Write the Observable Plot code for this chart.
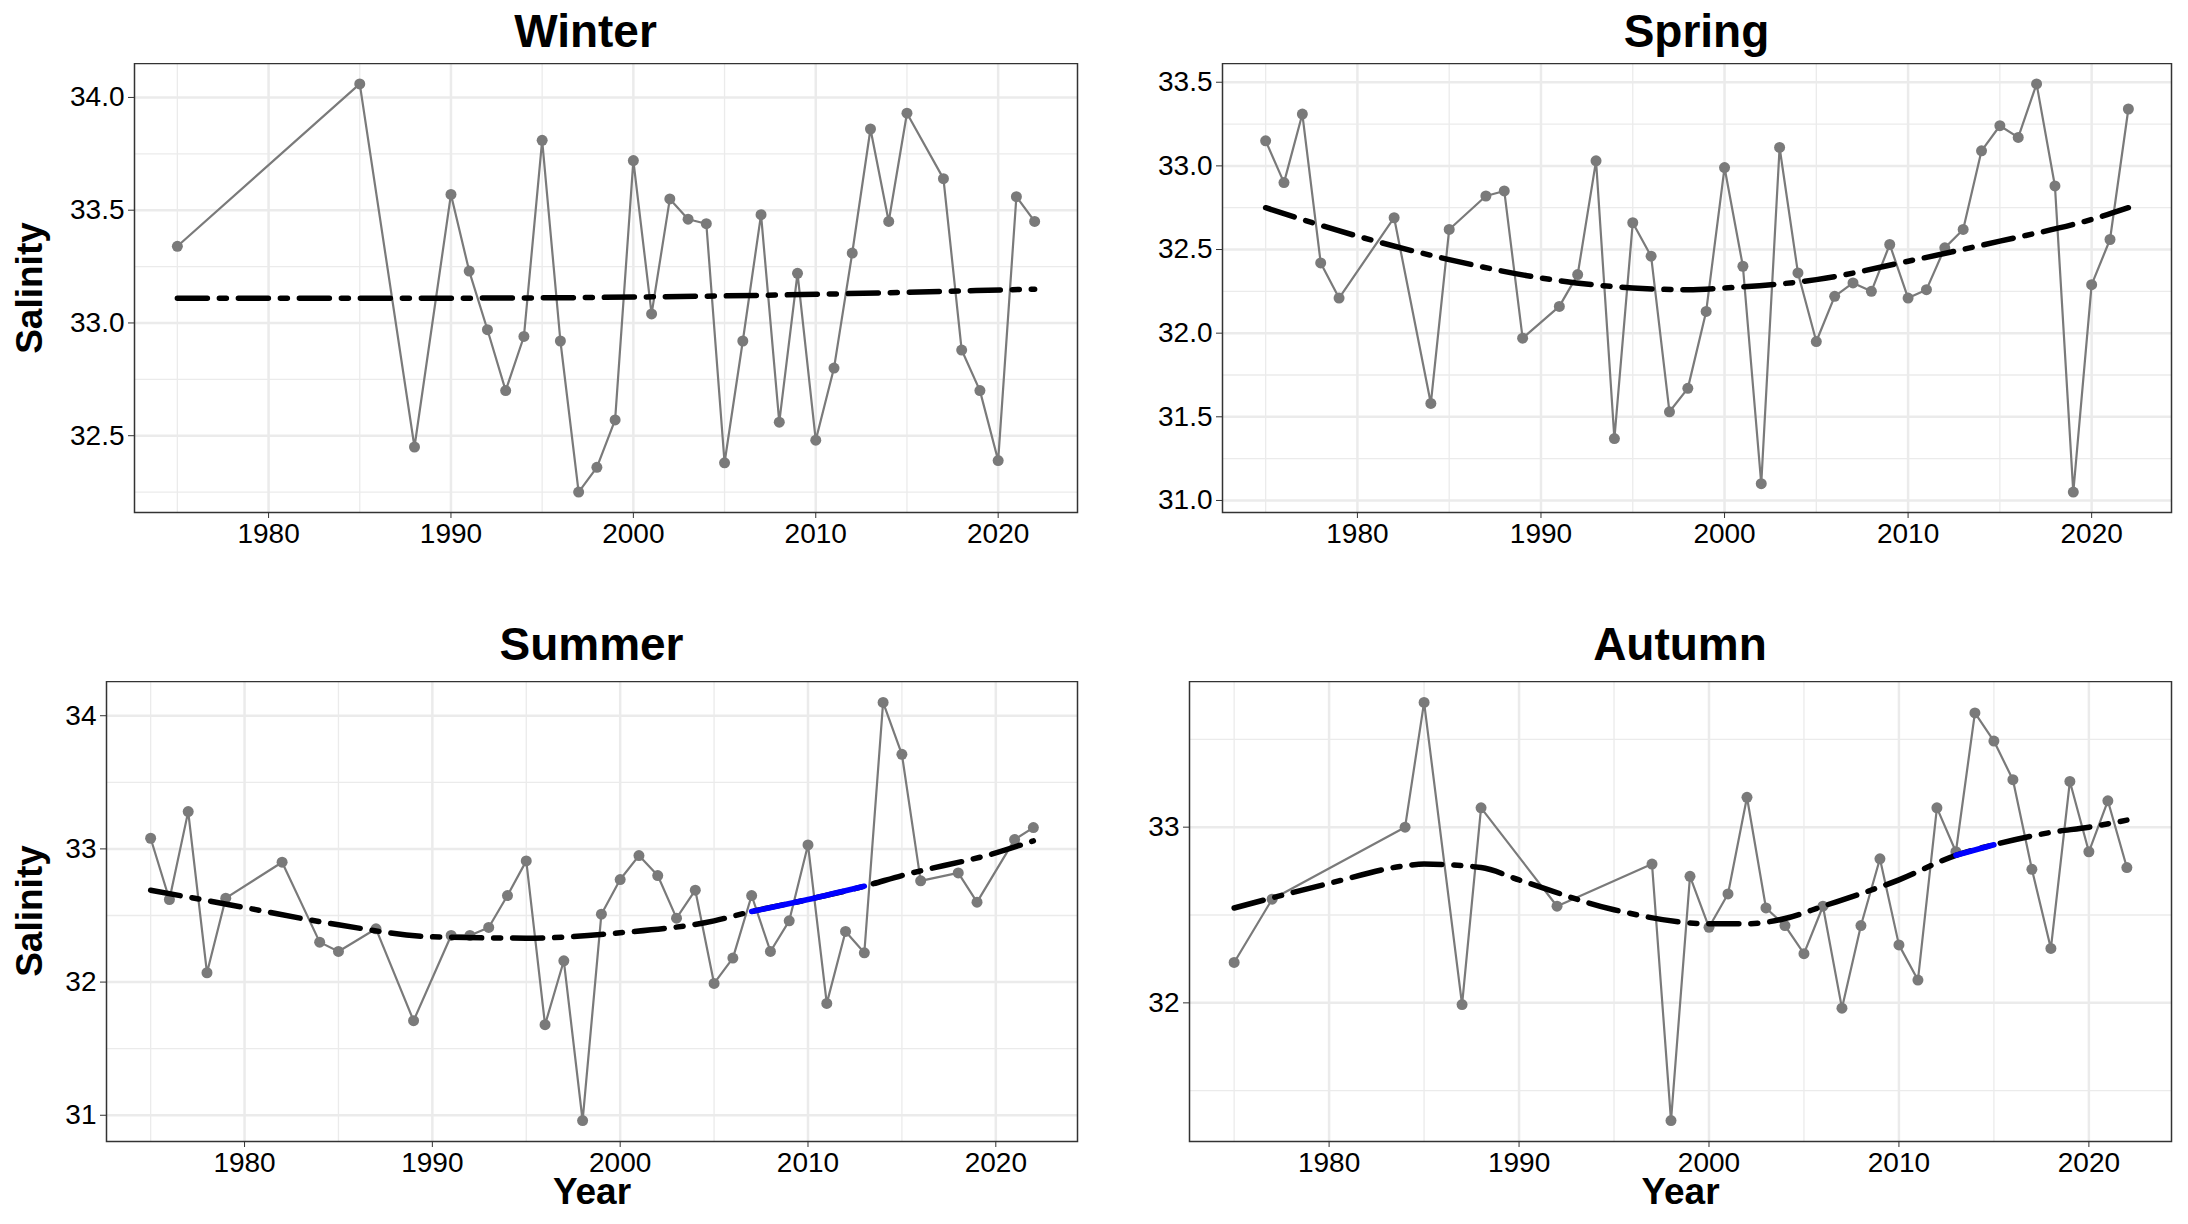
<!DOCTYPE html>
<html>
<head>
<meta charset="utf-8">
<script src="https://cdn.jsdelivr.net/npm/d3@7"></script>
<script src="https://cdn.jsdelivr.net/npm/@observablehq/plot@0.6"></script>
<style>
  body { margin: 0; background: #fff; font-family: "Liberation Sans", Arial, sans-serif; }
  #grid { display: grid; grid-template-columns: 1094px 1094px; width: 2188px; }
  .title { font-weight: bold; font-size: 46px; text-align: center; }
  .top .title { height: 63px; line-height: 62px; }
  .bottom .title { height: 69px; line-height: 64px; }
  svg { display: block; }
</style>
</head>
<body>
<div id="grid"></div>
<script>
// data
const winterYears = [1975,1985,1988,1990,1991,1992,1993,1994,1995,1996,1997,1998,1999,2000,2001,2002,2003,2004,2005,2006,2007,2008,2009,2010,2011,2012,2013,2014,2015,2017,2018,2019,2020,2021,2022];
const winterValues = [33.34,34.06,32.45,33.57,33.23,32.97,32.70,32.94,33.81,32.92,32.25,32.36,32.57,33.72,33.04,33.55,33.46,33.44,32.38,32.92,33.48,32.56,33.22,32.48,32.80,33.31,33.86,33.45,33.93,33.64,32.88,32.70,32.39,33.56,33.45];
const winterTrendYears = [1975,1990,2005,2022];
const winterTrendValues = [33.11,33.11,33.12,33.15];

const springYears = [1975,1976,1977,1978,1979,1982,1984,1985,1987,1988,1989,1991,1992,1993,1994,1995,1996,1997,1998,1999,2000,2001,2002,2003,2004,2005,2006,2007,2008,2009,2010,2011,2012,2013,2014,2015,2016,2017,2018,2019,2020,2021,2022];
const springValues = [33.15,32.90,33.31,32.42,32.21,32.69,31.58,32.62,32.82,32.85,31.97,32.16,32.35,33.03,31.37,32.66,32.46,31.53,31.67,32.13,32.99,32.40,31.10,33.11,32.36,31.95,32.22,32.30,32.25,32.53,32.21,32.26,32.51,32.62,33.09,33.24,33.17,33.49,32.88,31.05,32.29,32.56,33.34];
const springTrendYears = [1975,1980,1985,1990,1995,1998,2000,2005,2010,2015,2020,2022];
const springTrendValues = [32.75,32.58,32.44,32.33,32.27,32.26,32.27,32.32,32.43,32.55,32.68,32.75];

const summerYears = [1975,1976,1977,1978,1979,1982,1984,1985,1987,1989,1991,1992,1993,1994,1995,1996,1997,1998,1999,2000,2001,2002,2003,2004,2005,2006,2007,2008,2009,2010,2011,2012,2013,2014,2015,2016,2018,2019,2021,2022];
const summerValues = [33.08,32.62,33.28,32.07,32.63,32.90,32.30,32.23,32.40,31.71,32.35,32.35,32.41,32.65,32.91,31.68,32.16,30.96,32.51,32.77,32.95,32.80,32.48,32.69,31.99,32.18,32.65,32.23,32.46,33.03,31.84,32.38,32.22,34.10,33.71,32.76,32.82,32.60,33.07,33.16];
const summerTrendYears = [1975,1980,1985,1990,1995,2000,2005,2007,2010,2013,2015,2020,2022];
const summerTrendValues = [32.69,32.56,32.43,32.34,32.33,32.37,32.46,32.53,32.62,32.72,32.80,32.97,33.06];
const summerSignificant = [2007, 2013];

const autumnYears = [1975,1977,1984,1985,1987,1988,1992,1997,1998,1999,2000,2001,2002,2003,2004,2005,2006,2007,2008,2009,2010,2011,2012,2013,2014,2015,2016,2017,2018,2019,2020,2021,2022];
const autumnValues = [32.23,32.59,33.00,33.71,31.99,33.11,32.55,32.79,31.33,32.72,32.43,32.62,33.17,32.54,32.44,32.28,32.55,31.97,32.44,32.82,32.33,32.13,33.11,32.86,33.65,33.49,33.27,32.76,32.31,33.26,32.86,33.15,32.77];
const autumnTrendYears = [1975,1980,1984,1985,1988,1990,1995,2000,2002,2004,2006,2010,2013,2015,2018,2020,2022];
const autumnTrendValues = [32.54,32.68,32.78,32.79,32.77,32.70,32.53,32.45,32.45,32.48,32.55,32.70,32.84,32.90,32.97,33.00,33.04];
const autumnSignificant = [2013, 2015];

const yearTicks = [1980,1990,2000,2010,2020];

const panels = [
  {title: 'Winter', years: winterYears, values: winterValues, tY: winterTrendYears, tV: winterTrendValues, sig: null,
   ticks: [32.5,33,33.5,34], fmt: '.1f', ml: 134, row: 'top', ylab: true, xlab: false, shift: -20},
  {title: 'Spring', years: springYears, values: springValues, tY: springTrendYears, tV: springTrendValues, sig: null,
   ticks: [31,31.5,32,32.5,33,33.5], fmt: '.1f', ml: 128, row: 'top', ylab: false, xlab: false, shift: 0},
  {title: 'Summer', years: summerYears, values: summerValues, tY: summerTrendYears, tV: summerTrendValues, sig: summerSignificant,
   ticks: [31,32,33,34], fmt: 'd', ml: 106, row: 'bottom', ylab: true, xlab: true, shift: 0},
  {title: 'Autumn', years: autumnYears, values: autumnValues, tY: autumnTrendYears, tV: autumnTrendValues, sig: autumnSignificant,
   ticks: [32,33], fmt: 'd', ml: 95, row: 'bottom', ylab: false, xlab: true, shift: 0}
];

const grid = document.getElementById('grid');
for (const p of panels) {
  const pts = p.years.map((y, i) => ({year: y, s: p.values[i]}));
  const trend = p.tY.map((y, i) => ({year: y, s: p.tV[i]}));
  const sig = p.sig ? trend.filter(d => d.year >= p.sig[0] && d.year <= p.sig[1]) : [];
  const [lo, hi] = d3.extent(p.values);
  const pad = (hi - lo) * 0.05;
  const step = p.ticks[1] - p.ticks[0];
  const minorY = p.ticks.map(t => t - step / 2).concat([p.ticks[p.ticks.length - 1] + step / 2]);
  const top = p.row === 'top';
  const height = top ? 549 : 543;
  const mb = top ? 100 : 83;

  const fig = Plot.plot({
    width: 1094,
    height,
    marginLeft: p.ml,
    marginRight: 17,
    marginTop: 0,
    marginBottom: mb,
    style: {fontFamily: '"Liberation Sans", Arial, sans-serif', fontSize: '28px', color: '#000'},
    x: {domain: [1972.65, 2024.35]},
    y: {domain: [lo - pad, hi + pad]},
    marks: [
      Plot.gridX([1975,1985,1995,2005,2015], {stroke: '#ebebeb', strokeOpacity: 1, strokeWidth: 1.3}),
      Plot.gridY(minorY.filter(v => v > lo - pad && v < hi + pad), {stroke: '#ebebeb', strokeOpacity: 1, strokeWidth: 1.3}),
      Plot.gridX(yearTicks, {stroke: '#ebebeb', strokeOpacity: 1, strokeWidth: 2.5}),
      Plot.gridY(p.ticks, {stroke: '#ebebeb', strokeOpacity: 1, strokeWidth: 2.5}),
      Plot.line(pts, {x: 'year', y: 's', stroke: '#7a7a7a', strokeWidth: 2.2}),
      Plot.dot(pts, {x: 'year', y: 's', fill: '#7a7a7a', r: 5.5}),
      Plot.line(trend, {x: 'year', y: 's', stroke: '#000', strokeWidth: 5.5, curve: 'monotone-x',
        strokeDasharray: '30,12,7,12'}),
      Plot.line(sig, {x: 'year', y: 's', stroke: '#0000ff', strokeWidth: 5.5, curve: 'monotone-x'}),
      Plot.frame({stroke: '#333', strokeWidth: 1.5}),
      Plot.axisX({ticks: yearTicks, tickFormat: 'd', tickSize: 6, tickPadding: 5, stroke: '#333', fontSize: 28, fill: '#000',
        label: p.xlab ? 'Year' : null, labelAnchor: 'center', labelArrow: 'none', labelOffset: 62}),
      Plot.axisY({ticks: p.ticks, tickFormat: p.fmt, tickSize: 6, tickPadding: 4, stroke: '#333', fontSize: 28, fill: '#000', label: null})
    ]
  });

  // bold axis titles
  fig.querySelectorAll('[aria-label="x-axis label"] text').forEach(t => {
    t.style.fontWeight = 'bold'; t.style.fontSize = '37px';
  });

  const cell = document.createElement('div');
  cell.className = p.row;
  cell.style.position = 'relative';
  const title = document.createElement('div');
  title.className = 'title';
  title.style.paddingLeft = (p.ml - 17 + 2 * p.shift) + 'px';
  title.textContent = p.title;
  cell.append(title, fig);
  if (p.ylab) {
    const yl = document.createElement('div');
    yl.textContent = 'Salinity';
    const frameMid = (top ? 63 : 69) + (height - mb) / 2;
    yl.style.cssText = `position:absolute;left:30px;top:${frameMid}px;transform:translate(-50%,-50%) rotate(-90deg);font-weight:bold;font-size:37px;white-space:nowrap;`;
    cell.append(yl);
  }
  grid.append(cell);
}
</script>
</body>
</html>
